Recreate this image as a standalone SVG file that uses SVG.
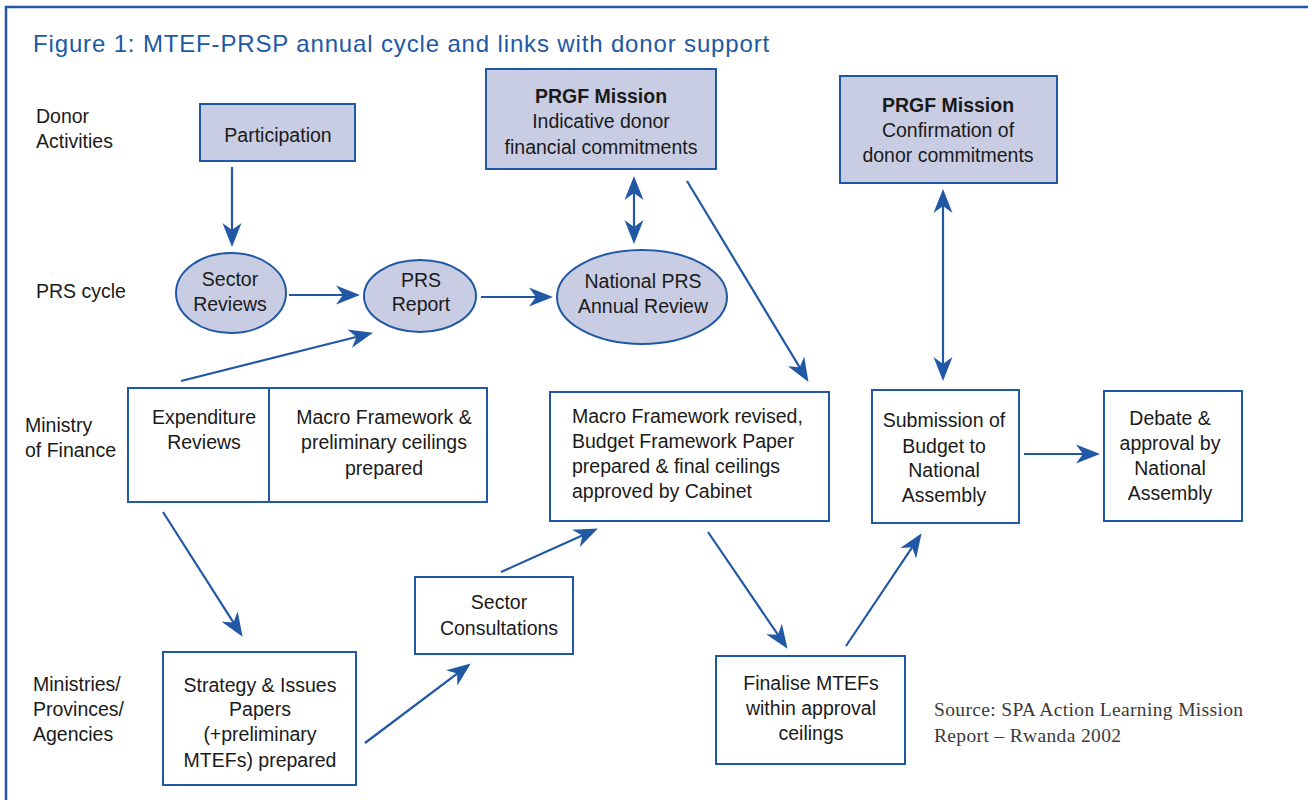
<svg xmlns="http://www.w3.org/2000/svg" width="1308" height="800" viewBox="0 0 1308 800">
<style>
.t{font-family:"Liberation Sans",Arial,sans-serif;font-size:19.5px;fill:#1a1a1a}
.c{text-anchor:middle}
.b{font-weight:bold}
.box{fill:#ffffff;stroke:#2058a5;stroke-width:2}
.don{fill:#c9cde3;stroke:#2058a5;stroke-width:2}
.ln{stroke:#2058a5;stroke-width:2.2;fill:none}
.title{font-family:"Liberation Sans",Arial,sans-serif;font-size:24px;letter-spacing:0.85px;fill:#2058a5}
.src{font-family:"Liberation Serif","Times New Roman",serif;font-size:19.5px;letter-spacing:0.35px;fill:#3a3a3a}
</style>
<defs>
<marker id="ah" viewBox="0 0 24 20" markerWidth="24" markerHeight="20" refX="19" refY="10" orient="auto-start-reverse" markerUnits="userSpaceOnUse">
<path d="M0,0.5 L24,10 L0,19.5 L7,10 z" fill="#2058a5"/>
</marker>
</defs>
<rect width="1308" height="800" fill="#ffffff"/>
<path d="M6,800 V7 H1308" fill="none" stroke="#2058a5" stroke-width="2.5"/>
<text class="title" x="33" y="52">Figure 1: MTEF-PRSP annual cycle and links with donor support</text>

<g id="row-labels">
<text class="t" x="36" y="123">Donor</text>
<text class="t" x="36" y="148">Activities</text>
<text class="t" x="36" y="298">PRS cycle</text>
<text class="t" x="25" y="432">Ministry</text>
<text class="t" x="25" y="457">of Finance</text>
<text class="t" x="33" y="691">Ministries/</text>
<text class="t" x="33" y="716">Provinces/</text>
<text class="t" x="33" y="741">Agencies</text>
</g>

<g id="participation">
<rect class="don" x="200" y="104" width="155" height="57"/>
<text class="t c" x="278" y="142">Participation</text>
</g>

<g id="prgf1">
<rect class="don" x="486" y="69" width="230" height="100"/>
<text class="t c b" x="601" y="103">PRGF Mission</text>
<text class="t c" x="601" y="128">Indicative donor</text>
<text class="t c" x="601" y="154">financial commitments</text>
</g>

<g id="prgf2">
<rect class="don" x="840" y="76" width="217" height="107"/>
<text class="t c b" x="948" y="112">PRGF Mission</text>
<text class="t c" x="948" y="137">Confirmation of</text>
<text class="t c" x="948" y="162">donor commitments</text>
</g>

<g id="sector-reviews">
<ellipse class="don" cx="231" cy="293" rx="55" ry="40"/>
<text class="t c" x="230" y="286">Sector</text>
<text class="t c" x="230" y="311">Reviews</text>
</g>

<g id="prs-report">
<ellipse class="don" cx="420" cy="296" rx="56" ry="36"/>
<text class="t c" x="421" y="287">PRS</text>
<text class="t c" x="421" y="311">Report</text>
</g>

<g id="national-prs">
<ellipse class="don" cx="642" cy="297" rx="85" ry="47"/>
<text class="t c" x="643" y="288">National PRS</text>
<text class="t c" x="643" y="313">Annual Review</text>
</g>

<g id="expenditure-reviews">
<rect class="box" x="128" y="388" width="141" height="114"/>
<text class="t c" x="204" y="424">Expenditure</text>
<text class="t c" x="204" y="449">Reviews</text>
</g>

<g id="macro-prelim">
<rect class="box" x="269" y="388" width="218" height="114"/>
<text class="t c" x="384" y="424">Macro Framework &amp;</text>
<text class="t c" x="384" y="449">preliminary ceilings</text>
<text class="t c" x="384" y="475">prepared</text>
</g>

<g id="macro-revised">
<rect class="box" x="550" y="392" width="279" height="129"/>
<text class="t" x="572" y="423">Macro Framework revised,</text>
<text class="t" x="572" y="448">Budget Framework Paper</text>
<text class="t" x="572" y="473">prepared &amp; final ceilings</text>
<text class="t" x="572" y="498">approved by Cabinet</text>
</g>

<g id="submission">
<rect class="box" x="872" y="390" width="147" height="133"/>
<text class="t c" x="944" y="427">Submission of</text>
<text class="t c" x="944" y="453">Budget to</text>
<text class="t c" x="944" y="477">National</text>
<text class="t c" x="944" y="502">Assembly</text>
</g>

<g id="debate">
<rect class="box" x="1104" y="391" width="138" height="130"/>
<text class="t c" x="1170" y="425">Debate &amp;</text>
<text class="t c" x="1170" y="450">approval by</text>
<text class="t c" x="1170" y="475">National</text>
<text class="t c" x="1170" y="500">Assembly</text>
</g>

<g id="sector-consultations">
<rect class="box" x="415" y="577" width="158" height="77"/>
<text class="t c" x="499" y="609">Sector</text>
<text class="t c" x="499" y="635">Consultations</text>
</g>

<g id="strategy">
<rect class="box" x="163" y="652" width="193" height="133"/>
<text class="t c" x="260" y="692">Strategy &amp; Issues</text>
<text class="t c" x="260" y="716">Papers</text>
<text class="t c" x="260" y="741">(+preliminary</text>
<text class="t c" x="260" y="767">MTEFs) prepared</text>
</g>

<g id="finalise">
<rect class="box" x="716" y="656" width="189" height="108"/>
<text class="t c" x="811" y="690">Finalise MTEFs</text>
<text class="t c" x="811" y="715">within approval</text>
<text class="t c" x="811" y="740">ceilings</text>
</g>

<g id="source">
<text class="src" x="934" y="716">Source: SPA Action Learning Mission</text>
<text class="src" x="934" y="742">Report – Rwanda 2002</text>
</g>

<g id="connectors">
<line class="ln" x1="232" y1="167" x2="232" y2="242" marker-end="url(#ah)"/>
<line class="ln" x1="289" y1="295" x2="355" y2="295" marker-end="url(#ah)"/>
<line class="ln" x1="481" y1="297" x2="548" y2="297" marker-end="url(#ah)"/>
<line class="ln" x1="181" y1="381" x2="368.1" y2="334" marker-end="url(#ah)"/>
<line class="ln" x1="634" y1="181" x2="634" y2="239" marker-start="url(#ah)" marker-end="url(#ah)"/>
<line class="ln" x1="687" y1="181" x2="805.9" y2="377.6" marker-end="url(#ah)"/>
<line class="ln" x1="943" y1="194" x2="943" y2="376" marker-start="url(#ah)" marker-end="url(#ah)"/>
<line class="ln" x1="163" y1="512" x2="239.9" y2="632.6" marker-end="url(#ah)"/>
<line class="ln" x1="365" y1="743" x2="466.8" y2="666.4" marker-end="url(#ah)"/>
<line class="ln" x1="501" y1="572" x2="593.3" y2="530.6" marker-end="url(#ah)"/>
<line class="ln" x1="708" y1="532" x2="784.7" y2="644.7" marker-end="url(#ah)"/>
<line class="ln" x1="846" y1="646" x2="918.8" y2="537.4" marker-end="url(#ah)"/>
<line class="ln" x1="1024" y1="454" x2="1095" y2="454" marker-end="url(#ah)"/>
</g>
</svg>
